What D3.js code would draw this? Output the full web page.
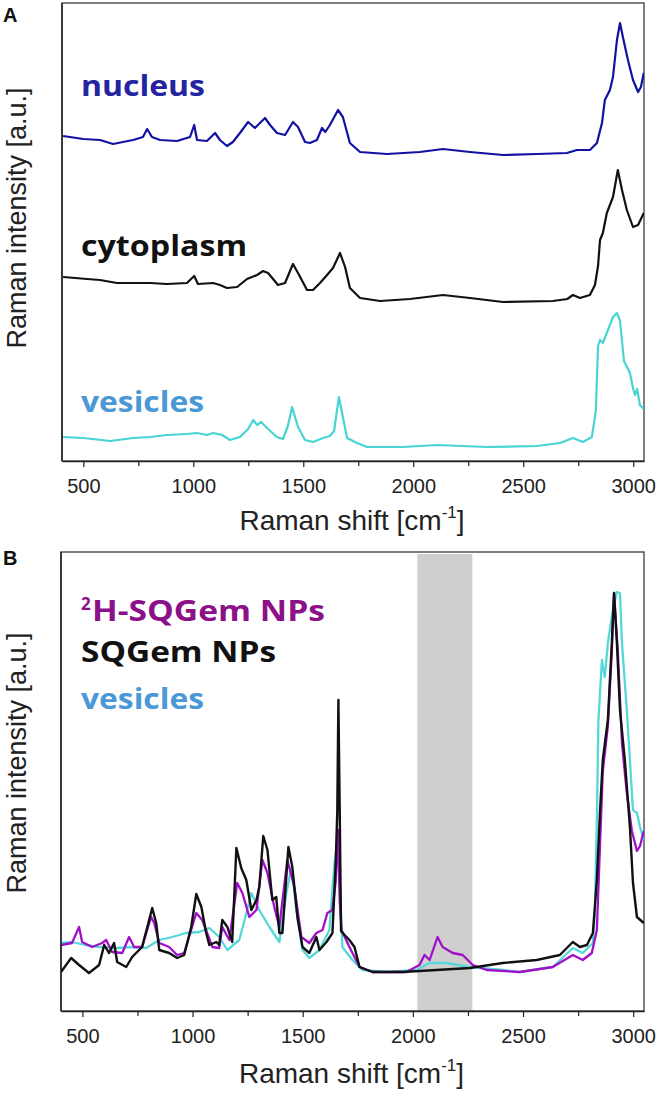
<!DOCTYPE html>
<html><head><meta charset="utf-8">
<script src="https://cdn.jsdelivr.net/npm/d3@7"></script>
<style>body{margin:0;background:#fff}svg{display:block}</style>
</head><body>
<svg id="c" width="657" height="1094"></svg>
<script>
// ---- data: [Raman shift (cm-1), intensity (a.u.)] ----
const majorTicks = [500, 1000, 1500, 2000, 2500, 3000];
const minorTicks = [750, 1250, 1750, 2250, 2750];
const shiftDomain = [403, 3049];
const deutBand = [2020, 2270];

const nucleus = [[408,325],[500,322],[576,321],[635,317],[680,319],[726,321],[771,324],[790,332],[812,324],[849,321],[926,320],[985,324],[1004,336],[1017,321],[1062,320],[1099,328],[1121,321],[1153,315],[1180,319],[1212,328],[1249,339],[1280,333],[1326,343],[1349,336],[1380,328],[1417,326],[1453,339],[1476,334],[1508,319],[1530,318],[1562,321],[1585,333],[1600,329],[1621,336],[1658,351],[1680,344],[1712,318],[1758,309],[1880,307],[2030,309],[2135,312],[2258,309],[2408,306],[2562,307],[2699,308],[2744,311],[2803,311],[2835,318],[2858,338],[2871,361],[2894,371],[2908,384],[2926,421],[2940,438],[2953,424],[2976,401],[2999,381],[3022,369],[3035,374],[3048,388]];
const cytoplasm = [[408,184],[517,182],[576,181],[653,178],[726,178],[803,178],[880,177],[971,178],[1004,185],[1021,177],[1090,178],[1121,176],[1153,173],[1199,174],[1244,182],[1290,186],[1317,190],[1340,188],[1385,176],[1417,178],[1453,197],[1476,188],[1517,171],[1544,171],[1576,178],[1608,186],[1635,193],[1667,208],[1690,194],[1712,173],[1758,163],[1849,160],[1985,162],[2135,166],[2258,163],[2408,159],[2635,160],[2700,162],[2726,166],[2758,163],[2803,166],[2826,176],[2840,195],[2849,221],[2862,228],[2880,248],[2908,264],[2930,291],[2949,271],[2971,251],[2999,234],[3022,236],[3048,248]];
const vesiclesA = [[408,24],[500,23],[623,20],[726,23],[803,24],[880,26],[971,27],[1017,28],[1062,26],[1090,28],[1131,26],[1167,21],[1212,24],[1249,32],[1272,41],[1290,36],[1308,39],[1335,33],[1380,24],[1408,22],[1430,35],[1449,54],[1476,34],[1508,21],[1544,19],[1590,23],[1621,25],[1640,30],[1662,64],[1680,44],[1699,23],[1744,18],[1790,14],[1953,14],[2108,16],[2335,14],[2562,15],[2667,18],[2726,23],[2771,19],[2812,24],[2830,50],[2840,115],[2849,121],[2862,118],[2885,131],[2908,144],[2926,148],[2940,140],[2958,100],[2985,88],[3000,72],[3008,66],[3018,72],[3030,56],[3048,52]];

const sqgem = [[403,39],[449,53],[485,46],[530,38],[576,46],[599,66],[621,58],[644,68],[658,49],[699,44],[726,54],[771,64],[803,91],[817,103],[835,88],[849,61],[894,58],[930,53],[962,56],[994,84],[1017,117],[1040,104],[1062,78],[1076,66],[1108,69],[1121,66],[1135,91],[1158,84],[1180,69],[1199,163],[1221,143],[1244,131],[1267,101],[1290,111],[1303,124],[1321,175],[1340,161],[1362,111],[1380,114],[1394,78],[1408,78],[1435,164],[1453,144],[1476,94],[1499,64],[1530,58],[1562,74],[1576,61],[1608,69],[1635,78],[1650,150],[1657,200],[1662,311],[1668,200],[1674,80],[1690,76],[1712,71],[1735,64],[1758,44],[1817,39],[1953,39],[2108,41],[2258,43],[2408,48],[2562,51],[2667,56],[2726,69],[2758,64],[2790,66],[2817,78],[2835,131],[2849,198],[2862,251],[2885,291],[2903,368],[2913,418],[2926,368],[2940,301],[2962,251],[2985,184],[2999,128],[3017,94],[3048,88]];
const h2sqgem = [[403,66],[453,68],[485,84],[499,69],[544,64],[590,68],[608,71],[635,59],[681,58],[712,74],[735,64],[771,64],[812,94],[826,88],[849,68],[894,64],[930,56],[962,58],[1017,98],[1044,91],[1090,64],[1121,63],[1135,84],[1167,71],[1203,128],[1226,118],[1258,94],[1290,101],[1317,151],[1340,138],[1371,104],[1394,84],[1430,151],[1462,124],[1494,74],[1530,68],[1562,78],[1590,81],[1612,98],[1635,101],[1650,130],[1660,181],[1668,110],[1676,81],[1712,64],[1758,44],[1817,39],[1971,39],[2030,46],[2053,56],[2076,51],[2112,74],[2135,64],[2181,58],[2226,56],[2272,46],[2335,41],[2485,39],[2635,44],[2726,56],[2771,51],[2812,58],[2835,81],[2849,164],[2862,240],[2885,285],[2903,360],[2913,418],[2930,360],[2949,268],[2971,218],[2994,180],[3017,160],[3031,165],[3048,180]];
const vesiclesB = [[403,68],[453,69],[512,66],[576,64],[653,63],[726,64],[790,63],[849,71],[908,74],[971,78],[1030,79],[1076,83],[1121,74],[1158,61],[1212,71],[1240,94],[1267,118],[1303,101],[1349,84],[1394,69],[1426,118],[1449,144],[1471,101],[1499,61],[1530,53],[1576,61],[1621,81],[1644,148],[1660,171],[1680,64],[1726,51],[1771,41],[1880,39],[2017,41],[2076,48],[2153,48],[2258,44],[2408,41],[2485,39],[2635,44],[2726,63],[2771,58],[2817,68],[2826,100],[2835,190],[2842,290],[2858,351],[2871,334],[2885,368],[2908,401],[2926,419],[2940,418],[2949,368],[2971,301],[2985,251],[2999,201],[3017,198],[3031,184],[3048,171]];

// ---- drawing ----
const svg = d3.select('#c');
const SANS = "'Liberation Sans', Arial, sans-serif";
const LABEL = "'Open Sans', 'Noto Sans', sans-serif";

function panel(o) {
  const x = d3.scaleLinear().domain(shiftDomain).range([o.left, o.right]);
  const y = d3.scaleLinear().domain(o.yDomain).range([o.bottom, o.top]);
  const g = svg.append('g');

  if (o.band) {
    g.append('rect').attr('x', x(o.band[0])).attr('y', o.top + 2)
      .attr('width', x(o.band[1]) - x(o.band[0])).attr('height', o.bottom - o.top - 2)
      .attr('fill', '#cfcfcf');
  }
  g.append('rect').attr('x', o.left).attr('y', o.top).attr('width', o.right - o.left)
    .attr('height', o.bottom - o.top).attr('fill', 'none').attr('stroke', '#555').attr('stroke-width', 1.5);

  const line = d3.line().x(d => x(d[0])).y(d => y(d[1]));
  const clipId = 'clip' + o.id;
  g.append('clipPath').attr('id', clipId).append('rect')
    .attr('x', o.left).attr('y', o.top).attr('width', o.right - o.left).attr('height', o.bottom - o.top);
  o.series.forEach(s => {
    g.append('path').datum(s.data).attr('d', line).attr('fill', 'none')
      .attr('stroke', s.color).attr('stroke-width', s.width || 2).attr('stroke-linejoin', 'round')
      .attr('clip-path', `url(#${clipId})`);
  });

  g.append('line').attr('x1', o.left).attr('x2', o.left).attr('y1', o.top).attr('y2', o.bottom)
    .attr('stroke', '#222').attr('stroke-width', 1.5);

  const ax = g.append('g').attr('transform', `translate(0,${o.bottom})`)
    .call(d3.axisBottom(x).tickValues(majorTicks).tickSize(6).tickSizeOuter(0).tickFormat(d3.format('d')));
  ax.select('.domain').attr('stroke', '#222').attr('stroke-width', 1.5);
  ax.selectAll('.tick line').attr('stroke', '#222').attr('stroke-width', 1.2);
  ax.selectAll('.tick text').attr('dy', null).attr('y', 32)
    .attr('font-family', SANS).attr('font-size', 20).attr('fill', '#222');
  const mx = g.append('g').attr('transform', `translate(0,${o.bottom})`)
    .call(d3.axisBottom(x).tickValues(minorTicks).tickSize(5).tickFormat(''));
  mx.select('.domain').remove();
  mx.selectAll('.tick line').attr('stroke', '#222').attr('stroke-width', 1.2);

  const xt = g.append('text').attr('x', (o.left + o.right) / 2 - 1).attr('y', o.xTitleY)
    .attr('text-anchor', 'middle').attr('font-family', SANS).attr('font-size', 28).attr('fill', '#222');
  xt.append('tspan').text('Raman shift [cm');
  xt.append('tspan').attr('font-size', 17).attr('dy', -12).text('-1');
  xt.append('tspan').attr('dy', 12).text(']');

  g.append('text').attr('transform', `translate(26,${o.yTitleY}) rotate(-90)`)
    .attr('text-anchor', 'middle').attr('font-family', SANS).attr('font-size', 27).attr('fill', '#222')
    .text('Raman intensity [a.u.]');

  g.append('text').attr('x', 3).attr('y', o.letterY).attr('font-family', SANS)
    .attr('font-weight', 'bold').attr('font-size', 20).attr('fill', '#111').text(o.letter);

  o.labels.forEach(l => {
    g.append('text').attr('x', l.x).attr('y', l.y).attr('font-family', LABEL).attr('font-weight', 700)
      .attr('font-size', l.size).attr('fill', l.color)
      .attr('textLength', l.w).attr('lengthAdjust', 'spacingAndGlyphs').text(l.text);
  });
}

panel({
  id: 'A', left: 62, right: 644, top: 3, bottom: 461, yDomain: [0, 458],
  xTitleY: 530, yTitleY: 218, letter: 'A', letterY: 22,
  series: [
    {data: nucleus, color: '#1212a2', width: 2.2},
    {data: cytoplasm, color: '#111', width: 2.2},
    {data: vesiclesA, color: '#48d4d2', width: 2.2}
  ],
  labels: [
    {text: 'nucleus', x: 81, y: 96, w: 124, size: 29, color: '#2424a0'},
    {text: 'cytoplasm', x: 81, y: 256, w: 166, size: 29, color: '#111'},
    {text: 'vesicles', x: 81, y: 412, w: 123, size: 29, color: '#4a98d6'}
  ]
});

panel({
  id: 'B', left: 61, right: 644, top: 552, bottom: 1011, yDomain: [0, 459], band: deutBand,
  xTitleY: 1083, yTitleY: 763, letter: 'B', letterY: 565,
  series: [
    {data: vesiclesB, color: '#55d8d8', width: 2.3},
    {data: h2sqgem, color: '#a010c8', width: 2.3},
    {data: sqgem, color: '#111', width: 2.4}
  ],
  labels: [
    {text: 'H-SQGem NPs', x: 92, y: 621, w: 233, size: 28, color: '#8c1088'},
    {text: 'SQGem NPs', x: 81, y: 662, w: 195, size: 28, color: '#111'},
    {text: 'vesicles', x: 81, y: 709, w: 123, size: 28, color: '#4a98d6'}
  ]
});
svg.append('text').attr('x', 81).attr('y', 610).attr('font-family', LABEL).attr('font-weight', 700)
  .attr('font-size', 17).attr('fill', '#8c1088').text('2');
</script>
</body></html>
